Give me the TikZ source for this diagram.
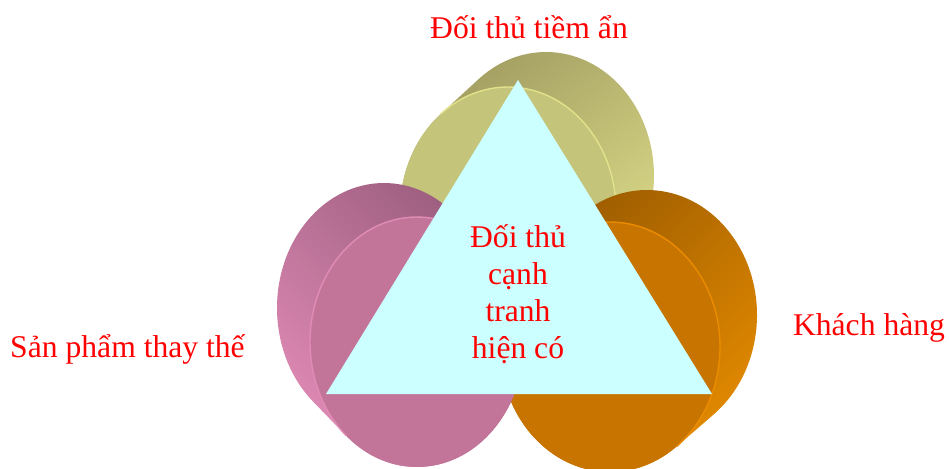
\documentclass[tikz,border=0pt]{standalone}
\usepackage{fontspec}
\setmainfont{Liberation Serif}
\usepackage{xcolor}
\usetikzlibrary{calc}

\definecolor{yelface}{RGB}{196,196,122}
\definecolor{yeledge}{RGB}{226,226,140}
\definecolor{yeldark}{RGB}{160,155,96}
\definecolor{yelmid}{RGB}{200,198,124}
\definecolor{yellight}{RGB}{228,228,142}
\definecolor{pnkface}{RGB}{194,117,153}
\definecolor{pnkedge}{RGB}{225,140,182}
\definecolor{pnkdark}{RGB}{150,90,122}
\definecolor{pnklight}{RGB}{226,140,183}
\definecolor{orgface}{RGB}{199,117,0}
\definecolor{orgedge}{RGB}{235,140,0}
\definecolor{orgdark}{RGB}{150,88,0}
\definecolor{orglight}{RGB}{230,140,0}
\definecolor{triface}{RGB}{204,255,255}

\begin{document}
\begin{tikzpicture}[
    x=0.02cm, y=0.02cm,
    redtext/.style={font=\fontsize{18}{21}\selectfont, text=red, inner sep=0pt},
    face/.style={line width=0.8pt}
]
\useasboundingbox (0,0) rectangle (949,468);

% centres of the front faces
\coordinate (yf) at (508,257);
\coordinate (of) at (610,121);
\coordinate (pf) at (417,126);

% yellow disc (back)
\shade[top color=yeldark, middle color=yelmid, bottom color=yellight, shading angle=35]
  (yf) ++(128.7:108 and 124) arc[start angle=128.7, delta angle=180, x radius=108, y radius=124]
  -- ++(38,35) arc[start angle=308.7, delta angle=180, x radius=108, y radius=124] -- cycle;
\fill[yelface] (yf) ellipse[x radius=108, y radius=124];
\draw[yeledge, face] (yf) ++(308.7:108 and 124) arc[start angle=308.7, delta angle=180, x radius=108, y radius=124];

% orange disc
\shade[top color=orgdark, bottom color=orglight, shading angle=45]
  (of) ++(127.3:110 and 125) arc[start angle=127.3, delta angle=180, x radius=110, y radius=125]
  -- ++(37,32) arc[start angle=307.3, delta angle=180, x radius=110, y radius=125] -- cycle;
\fill[orgface] (of) ellipse[x radius=110, y radius=125];
\draw[orgedge, face] (of) ++(307.3:110 and 125) arc[start angle=307.3, delta angle=180, x radius=110, y radius=125];

% pink disc
\shade[top color=pnkdark, bottom color=pnklight, shading angle=-45]
  (pf) ++(228.6:107 and 125) arc[start angle=228.6, delta angle=180, x radius=107, y radius=125]
  -- ++(-33,34) arc[start angle=48.6, delta angle=180, x radius=107, y radius=125] -- cycle;
\fill[pnkface] (pf) ellipse[x radius=107, y radius=125];
\draw[pnkedge, face] (pf) ++(48.6:107 and 125) arc[start angle=48.6, delta angle=180, x radius=107, y radius=125];

% triangle in front
\coordinate (apex) at (518,388);
\coordinate (bl) at (326,74);
\coordinate (br) at (712,74);
\fill[triface] (apex) -- (bl) -- (br) -- cycle;

\node[redtext, align=center] (rival) at (518,174) {Đối thủ\\cạnh\\tranh\\hiện có};
\node[redtext, anchor=base] (entrant) at (529,430) {Đối thủ tiềm ẩn};
\node[redtext, anchor=base] (subst) at (127.5,111) {Sản phẩm thay thế};
\node[redtext, anchor=base] (buyer) at (869,133) {Khách hàng};
\end{tikzpicture}
\end{document}
